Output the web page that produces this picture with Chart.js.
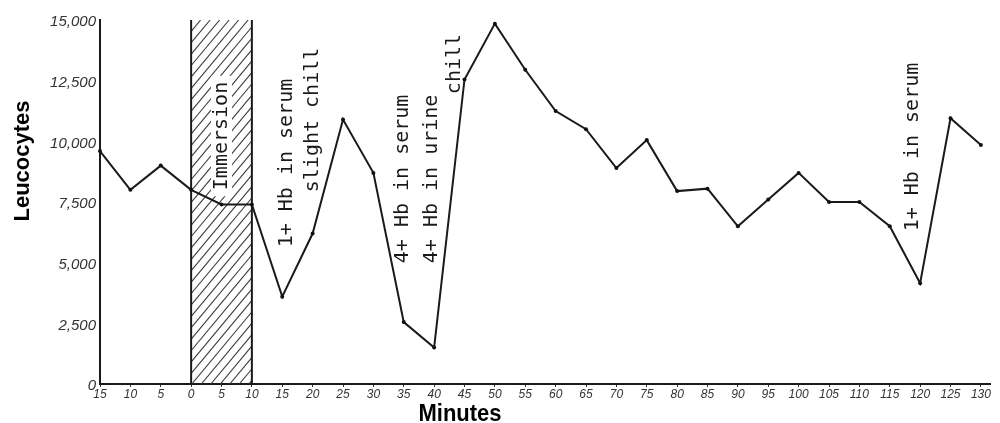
<!DOCTYPE html>
<html><head><meta charset="utf-8">
<script src="https://cdn.jsdelivr.net/npm/chart.js@4.4.1/dist/chart.umd.min.js"></script>
<style>html,body{margin:0;padding:0;background:#fff;}canvas{display:block;}</style>
</head><body>
<canvas id="c" width="1000" height="423"></canvas>
<script>
// ---- data ----
const minutes = [-15,-10,-5,0,5,10,15,20,25,30,35,40,45,50,55,60,65,70,75,80,85,90,95,100,105,110,115,120,125,130];
const leucocytes = [9600,8000,9000,8000,7400,7400,3600,6200,10900,8700,2550,1500,12550,14850,12950,11250,10500,8900,10050,7950,8050,6500,7600,8700,7500,7500,6500,4150,10950,9850];
const xTickValues = [-15,-10,-5,0,5,10,15,20,25,30,35,40,45,50,55,60,65,70,75,80,85,90,95,100,105,110,115,120,125,130];
const yTickValues = [0,2500,5000,7500,10000,12500,15000];
const immersionPeriod = [0, 10];
const annotationTexts = ["Immersion","1+ Hb in serum","slight chill","4+ Hb in serum","4+ Hb in urine","chill","1+ Hb in serum"];
const annotationMinutes = [5.9,16.6,20.9,35.75,40.5,44.3,119.6];
const annotationValues = [10220,9105,10880,8450,8450,13185,9765];
const annotationClear = [true,false,false,false,false,false,false];
const yTitle = "Leucocytes";
const xTitle = "Minutes";

const ink = '#1a1a1a';
const annoFont = '20px "DejaVu Sans Mono", monospace';

const hatchPlugin = {
  id: 'hatch',
  beforeDatasetsDraw(chart) {
    const {ctx, scales: {x, y}} = chart;
    const x0 = x.getPixelForValue(immersionPeriod[0]);
    const x1 = x.getPixelForValue(immersionPeriod[1]);
    const yt = y.getPixelForValue(y.max);
    const yb = y.getPixelForValue(0);
    const h = yb - yt;
    const slope = 1.2, sp = 9.5;
    ctx.save();
    ctx.beginPath(); ctx.rect(x0, yt, x1 - x0, h); ctx.clip();
    ctx.strokeStyle = '#3a3a3a'; ctx.lineWidth = 1.1;
    for (let s = x0 - h / slope; s < x1 + sp; s += sp) {
      ctx.beginPath(); ctx.moveTo(s, yb); ctx.lineTo(s + h / slope, yt); ctx.stroke();
    }
    // clear strip behind labels that sit on the hatching
    ctx.font = annoFont;
    ctx.fillStyle = '#fff';
    annotationTexts.forEach((t, i) => {
      if (!annotationClear[i]) return;
      const px = x.getPixelForValue(annotationMinutes[i]);
      const py = y.getPixelForValue(annotationValues[i]);
      const w = ctx.measureText(t).width;
      ctx.fillRect(px - 16, py - w / 2 - 6, 21, w + 12);
    });
    ctx.restore();
    ctx.save();
    ctx.strokeStyle = ink; ctx.lineWidth = 2;
    ctx.beginPath();
    ctx.moveTo(x0, yt); ctx.lineTo(x0, yb);
    ctx.moveTo(x1, yt); ctx.lineTo(x1, yb);
    ctx.stroke();
    ctx.restore();
  }
};

const textPlugin = {
  id: 'texts',
  afterDatasetsDraw(chart) {
    const {ctx, scales: {x, y}} = chart;
    ctx.save();
    ctx.fillStyle = ink;
    ctx.font = annoFont;
    ctx.textAlign = 'center';
    ctx.textBaseline = 'alphabetic';
    annotationTexts.forEach((t, i) => {
      const px = x.getPixelForValue(annotationMinutes[i]);
      const py = y.getPixelForValue(annotationValues[i]);
      ctx.save();
      ctx.translate(px, py);
      ctx.rotate(-Math.PI / 2);
      ctx.fillText(t, 0, 0);
      ctx.restore();
    });
    ctx.restore();
  },
  afterDraw(chart) {
    const {ctx} = chart;
    ctx.save();
    ctx.fillStyle = '#000';
    ctx.font = 'bold 22px "Liberation Sans", Arial, sans-serif';
    ctx.textAlign = 'center';
    ctx.textBaseline = 'alphabetic';
    ctx.save();
    ctx.translate(460, 421);
    ctx.scale(1, 1.1);
    ctx.fillText(xTitle, 0, 0);
    ctx.restore();
    ctx.save();
    ctx.translate(29, 161);
    ctx.rotate(-Math.PI / 2);
    ctx.fillText(yTitle, 0, 0);
    ctx.restore();
    ctx.restore();
  }
};

new Chart(document.getElementById('c').getContext('2d'), {
  type: 'line',
  data: {
    datasets: [{
      data: minutes.map((m, i) => ({x: m, y: leucocytes[i]})),
      borderColor: ink,
      borderWidth: 2,
      pointRadius: 2,
      pointBackgroundColor: '#111',
      pointBorderWidth: 0,
      tension: 0,
      fill: false,
      clip: false
    }]
  },
  options: {
    responsive: false,
    animation: false,
    devicePixelRatio: 1,
    layout: {padding: {top: 20, right: 10, left: 0, bottom: 0}},
    plugins: {legend: {display: false}, tooltip: {enabled: false}, title: {display: false}},
    scales: {
      x: {
        type: 'linear', min: -15, max: 131.5,
        afterBuildTicks: s => { s.ticks = xTickValues.map(v => ({value: v})); },
        afterFit: s => { s.height = 39; },
        grid: {display: true, drawOnChartArea: false, drawTicks: true, tickLength: 3, color: '#333', lineWidth: 1},
        border: {display: true, color: ink, width: 2},
        ticks: {
          autoSkip: false, maxRotation: 0, minRotation: 0, padding: 0, color: '#333',
          font: {family: '"Liberation Sans", Arial, sans-serif', size: 12, style: 'italic'},
          callback: v => String(Math.abs(v))
        }
      },
      y: {
        type: 'linear', min: 0, max: 15000,
        afterBuildTicks: s => { s.ticks = yTickValues.map(v => ({value: v})); },
        afterFit: s => { s.width = 100; },
        grid: {display: false, drawTicks: false},
        border: {display: true, color: ink, width: 2},
        ticks: {
          padding: 4, color: '#333', labelOffset: 2,
          font: {family: '"Liberation Sans", Arial, sans-serif', size: 15, style: 'italic'},
          callback: v => v.toLocaleString('en-US')
        }
      }
    }
  },
  plugins: [hatchPlugin, textPlugin]
});
</script>
</body></html>
